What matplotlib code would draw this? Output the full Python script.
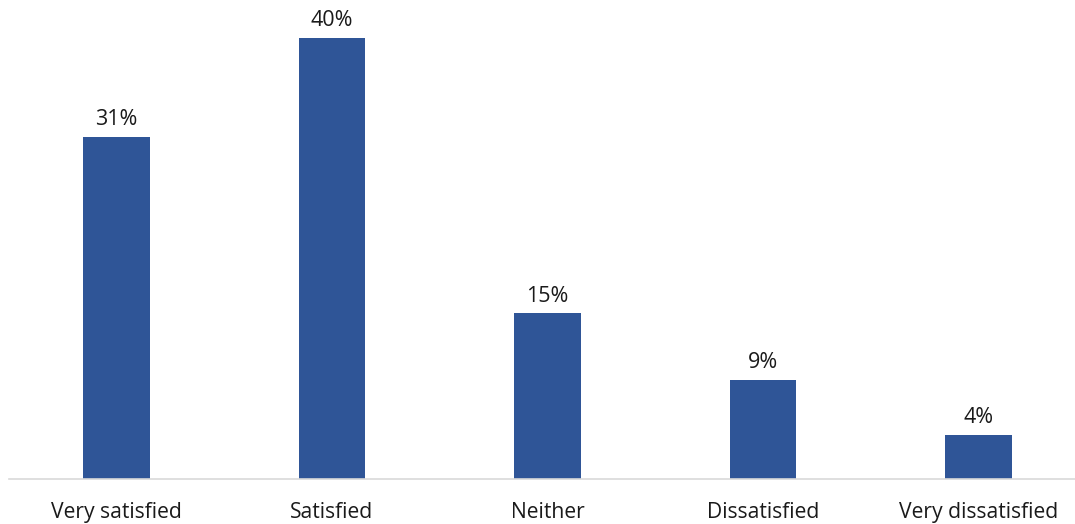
import matplotlib
matplotlib.use('Agg')
import matplotlib.pyplot as plt

# survey answers and their shares (%)
categories = ['Very satisfied', 'Satisfied', 'Neither', 'Dissatisfied', 'Very dissatisfied']
values = [31, 40, 15, 9, 4]

plt.rcParams['font.family'] = ['Open Sans', 'DejaVu Sans']

fig = plt.figure(figsize=(10.75, 5.24), dpi=100)
# axes runs a little past the right edge, like the original crop
ax = fig.add_axes([8.75 / 1075, 45 / 524, 1077.5 / 1075, 479 / 524])

x = range(len(categories))
bars = ax.bar(x, values, width=0.31, color='#2F5597')
ax.set_xlim(-0.5, 4.5)
ax.set_ylim(0, 43.4)

for b, v in zip(bars, values):
    ax.annotate(f'{v}%', (b.get_x() + b.get_width() / 2, v),
                xytext=(0, 5), textcoords='offset points',
                ha='center', va='bottom', fontsize=15.5, color='#1a1a1a')

ax.set_xticks(list(x))
ax.set_xticklabels(categories, fontsize=15.2, color='#1a1a1a')
ax.tick_params(axis='x', length=0, pad=16.5)
ax.set_yticks([])
for s in ['top', 'right', 'left']:
    ax.spines[s].set_visible(False)
ax.spines['bottom'].set_color('#D9D9D9')
ax.spines['bottom'].set_linewidth(1.2)

fig.savefig('out.png', dpi=100)
